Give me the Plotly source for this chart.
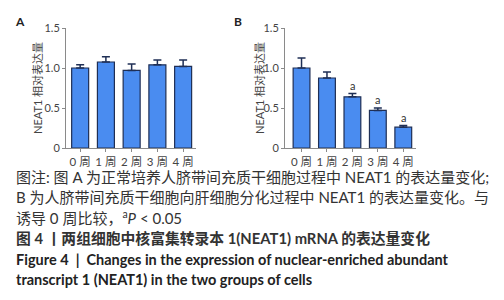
import plotly.graph_objects as go

categories = ["0 周", "1 周", "2 周", "3 周", "4 周"]
a_values = [1.00, 1.075, 0.97, 1.04, 1.02]
a_err_top = [1.04, 1.14, 1.05, 1.10, 1.10]
b_values = [1.00, 0.875, 0.64, 0.47, 0.26]
b_err_top = [1.125, 0.95, 0.68, 0.50, 0.28]
b_sig = ["", "", "a", "a", "a"]
y_ticks = [0, 0.5, 1.0, 1.5]
y_tick_text = ["0", "0.5", "1.0", "1.5"]
y_title = "NEAT1 相对表达量"

caption_lines = [
    "图注: 图 A 为正常培养人脐带间充质干细胞过程中 NEAT1 的表达量变化;",
    "B 为人脐带间充质干细胞向肝细胞分化过程中 NEAT1 的表达量变化。与",
    "诱导 0 周比较，<sup>a</sup><i>P</i> &lt; 0.05",
]
title_cn = "图 4 丨两组细胞中核富集转录本 1(NEAT1) mRNA 的表达量变化"
title_en = ["Figure 4  |  Changes in the expression of nuclear-enriched abundant",
            "transcript 1 (NEAT1) in the two groups of cells"]

W, H = 504, 300
FONT = "Lato, Noto Sans CJK SC, sans-serif"
BAR = "#4a8cf0"
EDGE = "#1f2f55"

def px(x):
    return x / W

def py(y):
    return 1 - y / H

fig = go.Figure()

for vals, tops, xa, ya in [(a_values, a_err_top, "x", "y"), (b_values, b_err_top, "x2", "y2")]:
    fig.add_trace(go.Bar(
        x=categories, y=vals, xaxis=xa, yaxis=ya,
        marker=dict(color=BAR, line=dict(color=EDGE, width=1.2)),
        error_y=dict(type="data", symmetric=False,
                     array=[t - v for t, v in zip(tops, vals)],
                     arrayminus=[0] * len(vals),
                     color=EDGE, thickness=1.5, width=4),
        showlegend=False,
    ))

axis_common = dict(showline=True, linecolor="#8a8a8a", linewidth=1, ticks="outside",
                   ticklen=3, tickcolor="#8a8a8a", showgrid=False, zeroline=False,
                   automargin=False,
                   tickfont=dict(family=FONT, size=11, color="#444"))

fig.update_layout(
    width=W, height=H, margin=dict(l=0, r=0, t=0, b=0),
    paper_bgcolor="white", plot_bgcolor="white",
    bargap=0.34,
    xaxis=dict(domain=[px(58), px(188)], anchor="y", range=[-0.55, 4.5], **axis_common),
    yaxis=dict(domain=[py(140), py(20)], anchor="x", range=[0, 1.5],
               tickvals=y_ticks, ticktext=y_tick_text, **axis_common),
    xaxis2=dict(domain=[px(277), px(408)], anchor="y2", range=[-0.65, 4.5], **axis_common),
    yaxis2=dict(domain=[py(140), py(20)], anchor="x2", range=[0, 1.5],
                tickvals=y_ticks, ticktext=y_tick_text, **axis_common),
)
fig.update_xaxes(tickfont=dict(size=11.5), ticklabelstandoff=0)

ann = []
for lab, xc in [("A", 12), ("B", 230)]:
    ann.append(dict(text="<b>" + lab + "</b>", x=px(xc), y=py(13), xref="paper", yref="paper",
                    xanchor="center", yanchor="middle",
                    showarrow=False, font=dict(family=FONT, size=12, color="#222")))
for xc in [30, 252]:
    ann.append(dict(text=y_title, x=px(xc), y=py(80), xref="paper", yref="paper",
                    xanchor="center", yanchor="middle",
                    textangle=-90, showarrow=False,
                    font=dict(family=FONT, size=11, color="#444")))
for c, t, s in zip(categories, b_err_top, b_sig):
    if s:
        ann.append(dict(text=s, x=c, y=t, xref="x2", yref="y2", yanchor="bottom",
                        yshift=0, showarrow=False,
                        font=dict(family=FONT, size=11, color="#333")))
ys = [169, 189, 209]
for line, yy in zip(caption_lines, ys):
    ann.append(dict(text=line, x=px(6), y=py(yy), xref="paper", yref="paper",
                    xanchor="left", yanchor="middle", showarrow=False,
                    font=dict(family=FONT, size=15, color="#333")))
ann.append(dict(text="<b>" + title_cn + "</b>", x=px(6), y=py(230), xref="paper", yref="paper",
                xanchor="left", yanchor="middle", showarrow=False,
                font=dict(family=FONT, size=14.8, color="#333")))
for line, yy in zip(title_en, [251, 271]):
    ann.append(dict(text="<b>" + line + "</b>", x=px(6), y=py(yy), xref="paper", yref="paper",
                    xanchor="left", yanchor="middle", showarrow=False,
                    font=dict(family=FONT, size=14.5, color="#222")))
fig.update_layout(annotations=ann)

fig.write_html("out.html")
